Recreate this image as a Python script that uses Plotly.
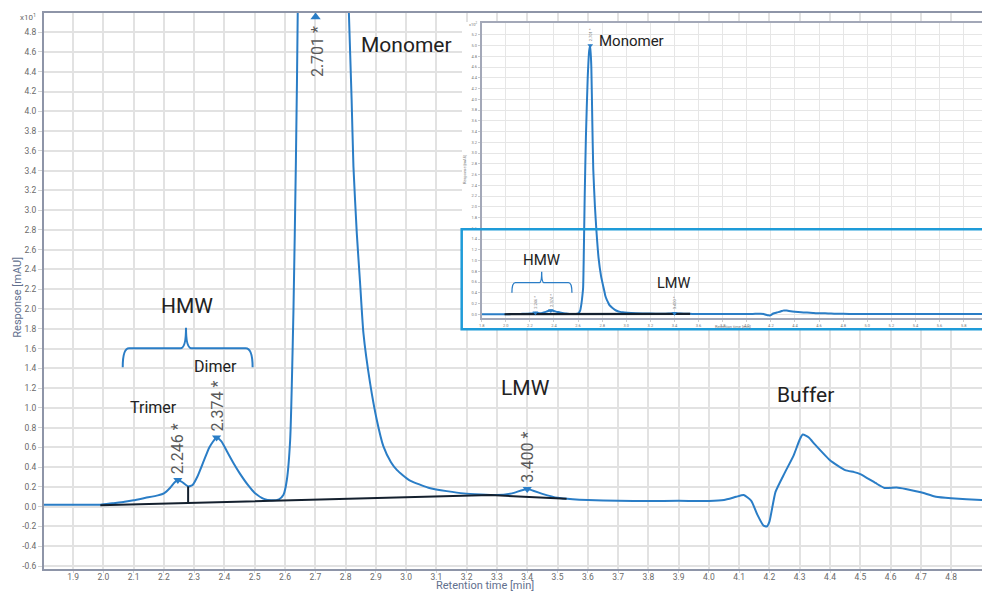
import plotly.graph_objects as go

# ---------------- data (response in x10 mAU) ----------------
TIME = [1.80, 1.90, 1.99, 2.03, 2.07, 2.10, 2.14, 2.18, 2.20, 2.22, 2.235, 2.246, 2.26, 2.28,
        2.295, 2.31, 2.33, 2.35, 2.374, 2.39, 2.41, 2.43, 2.45, 2.48, 2.50, 2.53, 2.555, 2.58,
        2.595, 2.606, 2.617, 2.628, 2.636, 2.642, 2.648, 2.655, 2.665, 2.68, 2.692, 2.701,
        2.71, 2.718, 2.726, 2.74, 2.754, 2.77, 2.79, 2.811, 2.82, 2.826, 2.837, 2.848, 2.859,
        2.881, 2.903, 2.925, 2.95, 2.97, 3.01, 3.08, 3.19, 3.30, 3.35, 3.40, 3.45, 3.50, 3.55,
        3.60, 3.70, 3.80, 3.90, 4.00, 4.05, 4.09, 4.115, 4.14, 4.16, 4.18, 4.191, 4.20, 4.22,
        4.25, 4.28, 4.30, 4.31, 4.33, 4.35, 4.40, 4.45, 4.48, 4.50, 4.55, 4.58, 4.62, 4.65,
        4.70, 4.75, 4.80, 4.90, 5.00, 5.50, 6.00]
RESPONSE = [0.02, 0.02, 0.02, 0.035, 0.05, 0.065, 0.09, 0.115, 0.135, 0.19, 0.245, 0.27, 0.25, 0.205,
            0.22, 0.30, 0.45, 0.60, 0.70, 0.66, 0.55, 0.44, 0.34, 0.21, 0.14, 0.08, 0.065, 0.075,
            0.12, 0.27, 0.675, 2.0, 3.5, 5.0, 12.0, 22.0, 33.0, 44.0, 49.0, 50.0,
            46.0, 36.0, 27.0, 20.0, 15.0, 10.5, 7.2, 4.99, 4.12, 3.44, 2.77, 2.26, 1.755,
            1.25, 0.88, 0.61, 0.45, 0.37, 0.27, 0.186, 0.135, 0.118, 0.135, 0.18, 0.13, 0.09, 0.075,
            0.067, 0.06, 0.058, 0.06, 0.058, 0.068, 0.10, 0.118, 0.06, -0.08, -0.19, -0.20, -0.15, 0.15,
            0.34, 0.52, 0.68, 0.73, 0.70, 0.63, 0.47, 0.37, 0.35, 0.33, 0.24, 0.19, 0.195, 0.18,
            0.146, 0.10, 0.085, 0.068, 0.06, 0.05, 0.05]

PEAK_TIMES = [2.246, 2.374, 2.701, 3.400]
PEAK_VALUES = [0.27, 0.70, 50.0, 0.18]
PEAK_LABELS = ["2.246 *", "2.374 *", "2.701 *", "3.400 *"]

BASELINE_T = [1.99, 3.28, 3.53]
BASELINE_Y = [0.015, 0.118, 0.08]
DROP_T = [2.28, 2.28]
DROP_Y = [0.04, 0.205]

X_TICKS = [1.9, 2.0, 2.1, 2.2, 2.3, 2.4, 2.5, 2.6, 2.7, 2.8, 2.9, 3.0, 3.1, 3.2, 3.3, 3.4, 3.5,
           3.6, 3.7, 3.8, 3.9, 4.0, 4.1, 4.2, 4.3, 4.4, 4.5, 4.6, 4.7, 4.8]
Y_TICKS = [-0.6, -0.4, -0.2, 0.0, 0.2, 0.4, 0.6, 0.8, 1.0, 1.2, 1.4, 1.6, 1.8, 2.0, 2.2, 2.4, 2.6,
           2.8, 3.0, 3.2, 3.4, 3.6, 3.8, 4.0, 4.2, 4.4, 4.6, 4.8]
INSET_X_TICKS = [1.8, 2.0, 2.2, 2.4, 2.6, 2.8, 3.0, 3.2, 3.4, 3.6, 3.8, 4.0, 4.2, 4.4, 4.6, 4.8,
                 5.0, 5.2, 5.4, 5.6, 5.8]
INSET_Y_TICKS = [0.0, 0.2, 0.4, 0.6, 0.8, 1.0, 1.2, 1.4, 1.6, 1.8, 2.0, 2.2, 2.4, 2.6, 2.8, 3.0,
                 3.2, 3.4, 3.6, 3.8, 4.0, 4.2, 4.4, 4.6, 4.8, 5.0, 5.2]

X_RANGE = [1.804, 4.902]
Y_RANGE = [-0.63, 4.994]
INSET_X_RANGE = [1.8, 5.952]
INSET_Y_RANGE = [-0.069, 5.42]
INSET_SCALE = 10.0  # inset axis in x10^2, main in x10^1

BLUE = "#2a7dc6"
DARK = "#14202e"
GRID = "#e2e2e2"
AXIS = "#8e95a8"
TICKC = "#6a6a6a"
TITLEC = "#62708e"
HILITE = "#1e9bd8"

def fmt(v):
    return f"{v:.1f}".replace("\u2212", "-")

fig = go.Figure()

# ---------------- main chart ----------------
fig.add_trace(go.Scatter(x=TIME, y=RESPONSE, mode="lines",
                         line=dict(color=BLUE, width=2, shape="spline", smoothing=0.5),
                         xaxis="x", yaxis="y", hoverinfo="skip"))
fig.add_trace(go.Scatter(x=BASELINE_T, y=BASELINE_Y, mode="lines",
                         line=dict(color=DARK, width=2), xaxis="x", yaxis="y"))
fig.add_trace(go.Scatter(x=DROP_T, y=DROP_Y, mode="lines",
                         line=dict(color=DARK, width=2), xaxis="x", yaxis="y"))

vis_t = [t for t, v in zip(PEAK_TIMES, PEAK_VALUES) if v < Y_RANGE[1]]
vis_v = [v for v in PEAK_VALUES if v < Y_RANGE[1]]
off_t = [t for t, v in zip(PEAK_TIMES, PEAK_VALUES) if v >= Y_RANGE[1]]
fig.add_trace(go.Scatter(x=vis_t, y=vis_v, mode="markers",
                         marker=dict(symbol="triangle-down", size=8, color=BLUE),
                         xaxis="x", yaxis="y", cliponaxis=False))
fig.add_trace(go.Scatter(x=off_t, y=[Y_RANGE[1] - 0.04] * len(off_t), mode="markers",
                         marker=dict(symbol="triangle-up", size=9, color=BLUE),
                         xaxis="x", yaxis="y", cliponaxis=False))

# ---------------- cover (white box of the inset) ----------------
fig.add_trace(go.Scatter(x=[], y=[], xaxis="x2", yaxis="y2"))

# ---------------- inset ----------------
fig.add_trace(go.Scatter(x=TIME, y=[v / INSET_SCALE for v in RESPONSE], mode="lines",
                         line=dict(color=BLUE, width=2, shape="spline", smoothing=0.5),
                         xaxis="x3", yaxis="y3"))
fig.add_trace(go.Scatter(x=BASELINE_T, y=[v / INSET_SCALE for v in BASELINE_Y], mode="lines",
                         line=dict(color=DARK, width=2.2), xaxis="x3", yaxis="y3"))
fig.add_trace(go.Scatter(x=PEAK_TIMES, y=[v / INSET_SCALE for v in PEAK_VALUES], mode="markers",
                         marker=dict(symbol="triangle-down", size=5, color=BLUE),
                         xaxis="x3", yaxis="y3"))

axis_common = dict(showgrid=True, gridcolor=GRID, gridwidth=1.5, zeroline=False,
                   showline=True, linecolor=AXIS, linewidth=2, ticks="outside",
                   tickcolor="#d3d3d3", tickwidth=1,
                   tickfont=dict(family="Roboto", size=8.5, color=TICKC))

fig.update_layout(
    width=982, height=592,
    margin=dict(l=44, r=0, t=13, b=23),
    paper_bgcolor="white", plot_bgcolor="white",
    showlegend=False,
    font=dict(family="Roboto"),
    xaxis=dict(domain=[0, 1], range=X_RANGE, anchor="y", mirror=True, ticklen=2,
               ticklabelstandoff=-3,
               tickvals=X_TICKS, ticktext=[fmt(v) for v in X_TICKS], **axis_common),
    yaxis=dict(domain=[0, 1], range=Y_RANGE, anchor="x", ticklen=4,
               tickvals=Y_TICKS, ticktext=[fmt(v) for v in Y_TICKS], **axis_common),
    xaxis2=dict(domain=[0.4456, 1], range=[0, 1], anchor="y2", showgrid=False, zeroline=False,
                showline=False, showticklabels=False, ticks=""),
    yaxis2=dict(domain=[0.4317, 0.9838], range=[0, 1], anchor="x2", showgrid=False, zeroline=False,
                showline=False, showticklabels=False, ticks=""),
    xaxis3=dict(domain=[0.4666, 1], range=INSET_X_RANGE, anchor="y3", showgrid=True,
                gridcolor="#e6e6e6", gridwidth=1, zeroline=False, showline=True, linecolor="#a3a8b8",
                linewidth=1.5, mirror=True, ticks="outside", ticklen=2, tickcolor="#ccc",
                tickvals=INSET_X_TICKS, ticktext=[fmt(v) for v in INSET_X_TICKS],
                tickfont=dict(family="Roboto", size=4, color="#777")),
    yaxis3=dict(domain=[0.4514, 0.9820], range=INSET_Y_RANGE, anchor="x3", showgrid=True,
                gridcolor="#e6e6e6", gridwidth=1, zeroline=False, showline=True, linecolor="#a3a8b8",
                linewidth=1.5, ticks="outside", ticklen=2, tickcolor="#ccc",
                tickvals=INSET_Y_TICKS, ticktext=[fmt(v) for v in INSET_Y_TICKS],
                tickfont=dict(family="Roboto", size=4, color="#777")),
)

ann = []
# axis titles and exponent
ann.append(dict(text="Response [mAU]", xref="paper", yref="paper", x=-0.0277, y=0.488,
                xanchor="center", yanchor="middle",
                textangle=-90, showarrow=False, font=dict(size=11, color=TITLEC)))
ann.append(dict(text="Retention time [min]", xref="paper", yref="paper", x=0.470, y=-0.0305,
                xanchor="center", yanchor="middle",
                showarrow=False, font=dict(size=11, color=TITLEC)))
ann.append(dict(text="x10<sup>1</sup>", xref="paper", yref="paper", x=-0.017, y=0.992,
                xanchor="center", yanchor="middle",
                showarrow=False, font=dict(size=8, color=TICKC)))

# peak labels (main)
for t, v, lab in zip(PEAK_TIMES, PEAK_VALUES, PEAK_LABELS):
    if v < Y_RANGE[1]:
        ann.append(dict(text=lab, x=t, y=v, xref="x", yref="y", textangle=-90, showarrow=False,
                        yanchor="bottom", yshift=4, font=dict(size=16, color="#5a5a5a")))
    else:
        ann.append(dict(text=lab, x=t, y=Y_RANGE[1], xref="x", yref="y", textangle=-90,
                        showarrow=False, yanchor="top", yshift=-11, xshift=2,
                        font=dict(size=16, color="#5a5a5a")))

# region labels (main)
for txt, x, y, s in [("Monomer", 3.00, 4.67, 21), ("HMW", 2.276, 2.03, 21),
                     ("Dimer", 2.372, 1.414, 16), ("Trimer", 2.164, 1.0, 16),
                     ("LMW", 3.393, 1.20, 21), ("Buffer", 4.32, 1.13, 21)]:
    ann.append(dict(text=txt, x=x, y=y, xref="x", yref="y", showarrow=False,
                    font=dict(size=s, color="#222222")))

# inset labels
for txt, x, y, s in [("Monomer", 3.047, 5.09, 15), ("HMW", 2.298, 1.01, 15), ("LMW", 3.388, 0.58, 14.5)]:
    ann.append(dict(text=txt, x=x, y=y, xref="x3", yref="y3", showarrow=False,
                    font=dict(size=s, color="#222222")))
for t, v, lab in zip(PEAK_TIMES, PEAK_VALUES, PEAK_LABELS):
    ann.append(dict(text=lab, x=t, y=v / INSET_SCALE, xref="x3", yref="y3", textangle=-90,
                    showarrow=False, yanchor="bottom", yshift=2, font=dict(size=4, color="#777")))
ann.append(dict(text="x10<sup>2</sup>", xref="paper", yref="paper", x=0.4574, y=0.980,
                xanchor="center", yanchor="middle",
                showarrow=False, font=dict(size=4, color="#777")))
ann.append(dict(text="Response [mAU]", xref="paper", yref="paper", x=0.4478, y=0.7176,
                xanchor="center", yanchor="middle",
                textangle=-90, showarrow=False, font=dict(size=4, color="#777")))
ann.append(dict(text="Retention time [min]", xref="paper", yref="paper", x=0.7345, y=0.437,
                xanchor="center", yanchor="middle",
                showarrow=False, font=dict(size=4, color="#777")))
fig.update_layout(annotations=ann)

shapes = []
# main brace
shapes.append(dict(type="path", xref="x", yref="y", layer="above",
                   path="M 2.064,1.41 Q 2.064,1.603 2.085,1.603 L 2.255,1.603 Q 2.273,1.603 2.273,1.81 "
                        "Q 2.273,1.603 2.291,1.603 L 2.470,1.603 Q 2.493,1.603 2.493,1.41",
                   line=dict(color=BLUE, width=2)))
# inset brace
shapes.append(dict(type="path", xref="x3", yref="y3", layer="above",
                   path="M 2.051,0.40 Q 2.051,0.588 2.08,0.588 L 2.28,0.588 Q 2.298,0.588 2.298,0.79 "
                        "Q 2.298,0.588 2.316,0.588 L 2.52,0.588 Q 2.549,0.588 2.549,0.40",
                   line=dict(color=BLUE, width=1.3)))
# highlight rectangle
shapes.append(dict(type="rect", xref="paper", yref="paper", layer="above",
                   x0=0.4453, x1=1.01, y0=0.4311, y1=0.611,
                   line=dict(color=HILITE, width=2.5), fillcolor="rgba(0,0,0,0)"))
fig.update_layout(shapes=shapes)

fig.write_html("out.html", config={"displayModeBar": False},
               post_script="document.body.style.margin='0';")
